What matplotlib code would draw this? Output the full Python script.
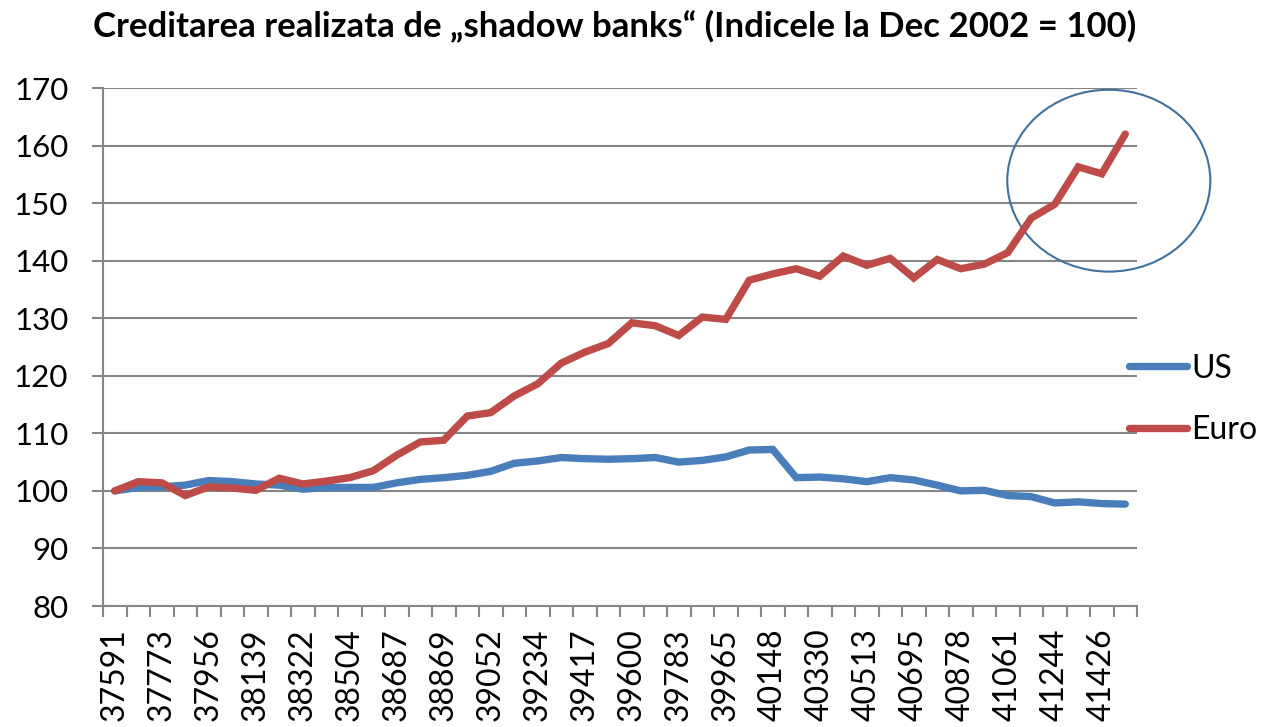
import numpy as np
import matplotlib
matplotlib.use('Agg')
import matplotlib.pyplot as plt
import matplotlib.patches as patches

plt.rcParams['font.family'] = ['Lato', 'DejaVu Sans']

# Excel date serials, quarterly (Dec 2002 .. Sep 2013)
quarters = [37591, 37681, 37773, 37865, 37956, 38047, 38139, 38231, 38322, 38412,
            38504, 38596, 38687, 38777, 38869, 38961, 39052, 39142, 39234, 39326,
            39417, 39508, 39600, 39692, 39783, 39873, 39965, 40057, 40148, 40238,
            40330, 40422, 40513, 40603, 40695, 40787, 40878, 40969, 41061, 41153,
            41244, 41334, 41426, 41518]

us = [100.0, 100.6, 100.7, 101.0, 101.8, 101.6, 101.2, 101.0, 100.3, 100.6,
      100.6, 100.6, 101.4, 102.0, 102.3, 102.7, 103.4, 104.8, 105.2, 105.8,
      105.6, 105.5, 105.6, 105.8, 105.0, 105.3, 105.9, 107.1, 107.2, 102.3,
      102.4, 102.1, 101.6, 102.3, 101.9, 101.0, 100.0, 100.1, 99.2, 99.0,
      97.9, 98.1, 97.8, 97.7]

euro = [100.0, 101.6, 101.4, 99.2, 100.7, 100.5, 100.1, 102.2, 101.2, 101.7,
        102.3, 103.5, 106.2, 108.5, 108.8, 113.0, 113.6, 116.5, 118.6, 122.2,
        124.1, 125.6, 129.2, 128.7, 127.0, 130.2, 129.8, 136.6, 137.7, 138.6,
        137.3, 140.8, 139.2, 140.4, 137.0, 140.2, 138.6, 139.4, 141.4, 147.4,
        149.8, 156.3, 155.1, 162.0]

title = 'Creditarea realizata de \u201eshadow banks\u201c (Indicele la Dec 2002 = 100)'

W, H = 1264, 727
GRID = '#868686'

fig = plt.figure(figsize=(W / 100, H / 100), dpi=100)
ax = fig.add_axes([103 / W, 1 - 606 / H, (1137 - 103) / W, (606 - 88) / H])

x = np.arange(len(quarters))
ax.plot(x, us, color='#4A7EBB', lw=5.3, solid_capstyle='round',
        solid_joinstyle='miter', label='US')
ax.plot(x, euro, color='#BE4B48', lw=5.3, solid_capstyle='round',
        solid_joinstyle='miter', label='Euro')

ax.set_xlim(-0.5, len(quarters) - 0.5)
ax.set_ylim(80, 170)
ax.set_yticks(range(80, 171, 10))
ax.yaxis.grid(True, color=GRID, lw=1.5)
ax.set_axisbelow(True)

for side in ['top', 'right']:
    ax.spines[side].set_visible(False)
for side in ['left', 'bottom']:
    ax.spines[side].set_color(GRID)
    ax.spines[side].set_linewidth(1.5)

# labels on every second quarter, tick marks on category borders
ax.set_xticks(x[::2])
ax.set_xticklabels([str(q) for q in quarters[::2]], rotation=90, va='top')
ax.set_xticks(np.arange(-0.5, len(quarters), 1), minor=True)
ax.tick_params(axis='x', which='major', length=0, pad=16, labelsize=23)
ax.tick_params(axis='x', which='minor', length=8, width=1.5, color=GRID)
ax.tick_params(axis='y', length=8, width=1.5, color=GRID, pad=17, labelsize=22.5)

# highlight of the last quarters
ell = patches.Ellipse((42.3, 153.9), 8.64, 31.6, fill=False,
                      edgecolor='#41719C', lw=1.5, clip_on=False)
ax.add_patch(ell)

fig.legend(loc='center left', bbox_to_anchor=(1129 / W, 1 - 399.5 / H),
           frameon=False, fontsize=23, handlelength=1.8, handletextpad=0.15,
           labelspacing=1.0, borderpad=0, borderaxespad=0)

fig.text(615 / W, 1 - 26 / H, title, ha='center', va='center',
         fontsize=25, fontweight='bold')

fig.savefig('out.png', dpi=100)
plt.close(fig)
